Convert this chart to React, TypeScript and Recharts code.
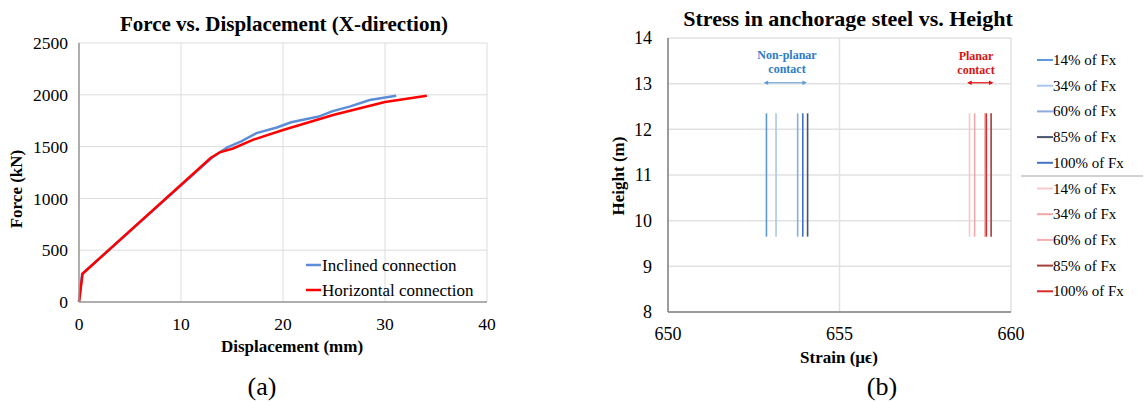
import React from 'react';
import {
  LineChart,
  Line,
  XAxis,
  YAxis,
  CartesianGrid,
  ReferenceLine,
} from 'recharts';

// ---- Panel (a): force vs. displacement ----
const displacementTicks = [0, 10, 20, 30, 40];
const forceTicks = [0, 500, 1000, 1500, 2000, 2500];

const inclinedDisplacement = [0, 0.3, 13.0, 14.5, 15.9, 17.4, 19.4, 20.8, 23.5, 24.8, 26.6, 28.5, 31.1];
const inclinedForce = [0, 270, 1390, 1490, 1550, 1630, 1685, 1735, 1790, 1840, 1888, 1950, 1990];

const horizontalDisplacement = [0, 0.35, 12.9, 13.8, 15.1, 17.1, 20.0, 25.0, 30.0, 34.1];
const horizontalForce = [0, 273, 1390, 1445, 1482, 1567, 1660, 1808, 1930, 1990];

const connectionNames = ['Inclined connection', 'Horizontal connection'];
const connectionColors = ['#5b8ed6', '#ff0000'];

// ---- Panel (b): strain in anchorage steel vs. height ----
const strainTicks = [650, 655, 660];
const heightTicks = [8, 9, 10, 11, 12, 13, 14];

const anchorBottom = 9.65;
const anchorTop = 12.35;

const loadLevels = ['14% of Fx', '34% of Fx', '60% of Fx', '85% of Fx', '100% of Fx'];
const nonPlanarStrain = [652.87, 653.15, 653.78, 654.07, 653.93];
const planarStrain = [658.79, 658.94, 659.24, 659.42, 659.28];
const nonPlanarColors = ['#5b9bd5', '#a9c8ec', '#8faadc', '#44546a', '#4472c4'];
const planarColors = ['#f6caca', '#f0a8a8', '#eeb0b0', '#a63c3c', '#dc2a2a'];

const nonPlanarRange = [652.79, 654.05];
const planarRange = [658.72, 659.49];
const arrowHeight = 13.02;

const FONT = "'Liberation Serif', 'Times New Roman', serif";

const toPoints = (xs: number[], ys: number[]) => xs.map((x, i) => ({ x, y: ys[i] }));
const inclinedData = toPoints(inclinedDisplacement, inclinedForce);
const horizontalData = toPoints(horizontalDisplacement, horizontalForce);

const anchorSeries = [
  ...nonPlanarStrain.map((s, i) => ({
    key: `np${i}`,
    name: loadLevels[i],
    color: nonPlanarColors[i],
    data: [{ x: s, y: anchorBottom }, { x: s, y: anchorTop }],
  })),
  ...planarStrain.map((s, i) => ({
    key: `pl${i}`,
    name: loadLevels[i],
    color: planarColors[i],
    data: [{ x: s, y: anchorBottom }, { x: s, y: anchorTop }],
  })),
];

const arrowShape = (color: string) => (p: any) => {
  const { x1, y1, x2 } = p;
  const left = Math.min(x1, x2);
  const right = Math.max(x1, x2);
  const y = y1;
  const h = 4.5;
  const w = 2.2;
  return (
    <g>
      <line x1={left + 2} y1={y} x2={right - 2} y2={y} stroke={color} strokeWidth={1.2} />
      <polygon points={`${left},${y} ${left + h},${y - w} ${left + h},${y + w}`} fill={color} />
      <polygon points={`${right},${y} ${right - h},${y - w} ${right - h},${y + w}`} fill={color} />
    </g>
  );
};

const tickStyleA = { fontFamily: FONT, fontSize: 17.5, fill: '#000' };
const tickStyleB = { fontFamily: FONT, fontSize: 18, fill: '#000' };

export default function App() {
  return (
    <div
      style={{
        position: 'absolute',
        left: 0,
        top: 0,
        width: 1145,
        height: 402,
        background: '#fff',
        overflow: 'hidden',
        fontFamily: FONT,
      }}
    >
      {/* Panel (a) */}
      <div style={{ position: 'absolute', left: 0, top: 0 }}>
        <LineChart width={560} height={402} margin={{ top: 43, right: 73, bottom: 70, left: 0 }}>
          <CartesianGrid stroke="#dcdcdc" strokeWidth={1} />
          <XAxis
            type="number"
            dataKey="x"
            domain={[0, 40]}
            ticks={displacementTicks}
            height={30}
            tickLine={false}
            tickMargin={10}
            axisLine={{ stroke: '#999', strokeWidth: 1.5 }}
            tick={tickStyleA}
            interval={0}
          />
          <YAxis
            type="number"
            dataKey="y"
            domain={[0, 2500]}
            ticks={forceTicks}
            width={79}
            tickLine={false}
            tickMargin={5}
            axisLine={{ stroke: '#999', strokeWidth: 1.5 }}
            tick={tickStyleA}
            interval={0}
          />
          <Line
            data={inclinedData}
            dataKey="y"
            name={connectionNames[0]}
            stroke={connectionColors[0]}
            strokeWidth={2.5}
            dot={false}
            isAnimationActive={false}
            type="linear"
          />
          <Line
            data={horizontalData}
            dataKey="y"
            name={connectionNames[1]}
            stroke={connectionColors[1]}
            strokeWidth={2.5}
            dot={false}
            isAnimationActive={false}
            type="linear"
          />
        </LineChart>
      </div>

      {/* Panel (b) */}
      <div style={{ position: 'absolute', left: 600, top: 0 }}>
        <LineChart width={545} height={402} margin={{ top: 38, right: 134, bottom: 60, left: 0 }}>
          <CartesianGrid stroke="#e2e2e2" strokeWidth={1.5} />
          <XAxis
            type="number"
            dataKey="x"
            domain={[650, 660]}
            ticks={strainTicks}
            height={30}
            tickLine={false}
            tickMargin={9}
            axisLine={{ stroke: '#808080', strokeWidth: 1.5 }}
            tick={tickStyleB}
            interval={0}
          />
          <YAxis
            type="number"
            dataKey="y"
            domain={[8, 14]}
            ticks={heightTicks}
            width={68}
            tickLine={false}
            tickMargin={10}
            axisLine={{ stroke: '#808080', strokeWidth: 1.5 }}
            tick={tickStyleB}
            interval={0}
          />
          {anchorSeries.map((s) => (
            <Line
              key={s.key}
              data={s.data}
              dataKey="y"
              name={s.name}
              stroke={s.color}
              strokeWidth={1.6}
              dot={false}
              isAnimationActive={false}
              type="linear"
            />
          ))}
          <ReferenceLine
            segment={[
              { x: nonPlanarRange[0], y: arrowHeight },
              { x: nonPlanarRange[1], y: arrowHeight },
            ]}
            ifOverflow="visible"
            shape={arrowShape('#5b9bd5')}
          />
          <ReferenceLine
            segment={[
              { x: planarRange[0], y: arrowHeight },
              { x: planarRange[1], y: arrowHeight },
            ]}
            ifOverflow="visible"
            shape={arrowShape('#e01010')}
          />
        </LineChart>
      </div>

      {/* Titles, axis titles, annotations and legends */}
      <svg
        width={1145}
        height={402}
        style={{ position: 'absolute', left: 0, top: 0, pointerEvents: 'none' }}
        fontFamily={FONT}
      >
        <text x={284} y={31} textAnchor="middle" fontSize={21} fontWeight="bold">
          Force vs. Displacement (X-direction)
        </text>
        <text x={292} y={352} textAnchor="middle" fontSize={17} fontWeight="bold">
          Displacement (mm)
        </text>
        <text
          x={0}
          y={0}
          transform="translate(21.5 189) rotate(-90)"
          textAnchor="middle"
          fontSize={17}
          fontWeight="bold"
        >
          Force (kN)
        </text>
        <text x={262} y={395} textAnchor="middle" fontSize={26}>
          (a)
        </text>

        {connectionNames.map((n, i) => (
          <g key={n}>
            <line x1={306} x2={321} y1={265 + i * 25} y2={265 + i * 25} stroke={connectionColors[i]} strokeWidth={2.5} />
            <text x={322} y={271 + i * 25} fontSize={17}>
              {n}
            </text>
          </g>
        ))}

        <text x={848} y={26} textAnchor="middle" fontSize={22} fontWeight="bold">
          Stress in anchorage steel vs. Height
        </text>
        <text x={839} y={363} textAnchor="middle" fontSize={17} fontWeight="bold">
          Strain (µϵ)
        </text>
        <text
          x={0}
          y={0}
          transform="translate(624 176) rotate(-90)"
          textAnchor="middle"
          fontSize={17}
          fontWeight="bold"
        >
          Height (m)
        </text>
        <text x={882} y={395} textAnchor="middle" fontSize={26}>
          (b)
        </text>

        <text x={787} y={59} textAnchor="middle" fontSize={12} fontWeight="bold" fill="#2e7bc9">
          Non-planar
        </text>
        <text x={787} y={73} textAnchor="middle" fontSize={12} fontWeight="bold" fill="#2e7bc9">
          contact
        </text>
        <text x={976} y={60} textAnchor="middle" fontSize={12} fontWeight="bold" fill="#d91414">
          Planar
        </text>
        <text x={976} y={74} textAnchor="middle" fontSize={12} fontWeight="bold" fill="#d91414">
          contact
        </text>

        {anchorSeries.map((s, i) => {
          const y = 60 + i * 25.7;
          return (
            <g key={s.key}>
              <line x1={1037} x2={1053} y1={y} y2={y} stroke={s.color} strokeWidth={2} />
              <text x={1053} y={y + 5} fontSize={15}>
                {s.name}
              </text>
            </g>
          );
        })}
        <line x1={1021} x2={1143} y1={176} y2={176} stroke="#a6a6a6" strokeWidth={1} />
      </svg>
    </div>
  );
}
